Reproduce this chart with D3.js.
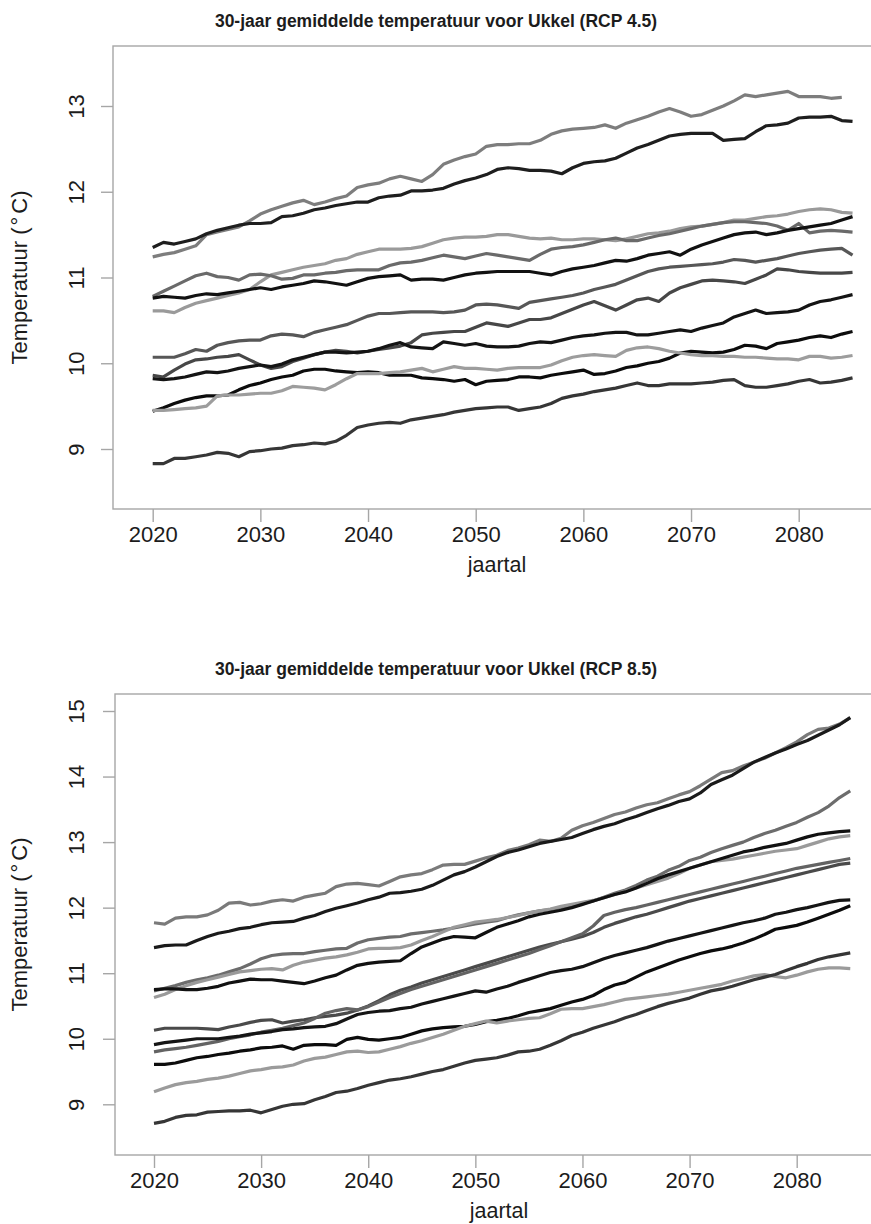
<!DOCTYPE html>
<html>
<head>
<meta charset="utf-8">
<script src="https://cdn.jsdelivr.net/npm/d3@7"></script>
<style>
  html, body { margin: 0; padding: 0; background: #fff; }
  svg { display: block; font-family: "Liberation Sans", Arial, Helvetica, sans-serif; }
</style>
</head>
<body>
<svg id="chart" width="871" height="1224"></svg>
<script>
// Years shared by both scenarios
const startYear = 2020;
const xTicks = [2020, 2030, 2040, 2050, 2060, 2070, 2080];
const yTicks45 = [9, 10, 11, 12, 13];
const yTicks85 = [9, 10, 11, 12, 13, 14, 15];

// RCP 4.5 model runs, 30-year running mean (°C), one value per year from 2020
const rcp45_a = [11.24,11.27,11.29,11.33,11.37,11.5,11.53,11.56,11.59,11.66,11.74,11.79,11.83,11.87,11.9,11.85,11.88,11.92,11.95,12.05,12.08,12.1,12.15,12.18,12.15,12.12,12.2,12.32,12.37,12.41,12.44,12.53,12.55,12.55,12.56,12.56,12.6,12.67,12.71,12.73,12.74,12.75,12.78,12.74,12.8,12.84,12.88,12.93,12.97,12.93,12.88,12.9,12.95,13.0,13.06,13.13,13.11,13.13,13.15,13.17,13.11,13.11,13.11,13.09,13.1];
const rcp45_b = [11.35,11.41,11.39,11.42,11.45,11.51,11.55,11.58,11.61,11.63,11.63,11.64,11.71,11.72,11.75,11.79,11.81,11.84,11.86,11.88,11.88,11.93,11.95,11.96,12.01,12.01,12.02,12.04,12.09,12.13,12.16,12.2,12.26,12.28,12.27,12.25,12.25,12.24,12.21,12.28,12.33,12.35,12.36,12.39,12.45,12.51,12.55,12.6,12.65,12.67,12.68,12.68,12.68,12.6,12.61,12.62,12.7,12.77,12.78,12.8,12.86,12.87,12.87,12.88,12.83,12.82];
const rcp45_c = [10.61,10.61,10.59,10.65,10.7,10.73,10.76,10.79,10.82,10.86,10.95,11.03,11.06,11.09,11.12,11.14,11.16,11.2,11.22,11.27,11.3,11.33,11.33,11.33,11.34,11.36,11.4,11.44,11.46,11.47,11.47,11.48,11.5,11.5,11.48,11.46,11.45,11.46,11.44,11.44,11.45,11.45,11.44,11.43,11.45,11.48,11.51,11.52,11.54,11.57,11.59,11.6,11.62,11.64,11.67,11.67,11.69,11.71,11.72,11.74,11.77,11.79,11.8,11.79,11.76,11.75];
const rcp45_d = [10.78,10.84,10.9,10.96,11.02,11.05,11.01,11.0,10.97,11.03,11.04,11.02,10.98,10.99,11.03,11.03,11.05,11.06,11.08,11.09,11.09,11.09,11.14,11.17,11.18,11.2,11.23,11.26,11.24,11.22,11.25,11.28,11.26,11.24,11.22,11.2,11.27,11.33,11.35,11.36,11.38,11.41,11.44,11.46,11.43,11.43,11.46,11.49,11.51,11.54,11.57,11.6,11.62,11.64,11.65,11.65,11.64,11.63,11.6,11.55,11.63,11.52,11.54,11.55,11.54,11.53];
const rcp45_e = [10.76,10.78,10.77,10.76,10.79,10.81,10.8,10.82,10.84,10.86,10.88,10.86,10.89,10.91,10.93,10.96,10.95,10.93,10.91,10.95,10.99,11.01,11.02,11.03,10.97,10.98,10.98,10.97,11.0,11.03,11.05,11.06,11.07,11.07,11.07,11.07,11.05,11.03,11.07,11.1,11.12,11.14,11.17,11.2,11.19,11.22,11.26,11.28,11.3,11.26,11.33,11.38,11.42,11.46,11.5,11.52,11.53,11.5,11.52,11.55,11.57,11.59,11.61,11.63,11.67,11.71];
const rcp45_f = [10.07,10.07,10.07,10.11,10.16,10.14,10.21,10.24,10.26,10.27,10.27,10.32,10.34,10.33,10.31,10.36,10.39,10.42,10.45,10.5,10.55,10.58,10.58,10.59,10.6,10.6,10.6,10.59,10.6,10.62,10.68,10.69,10.68,10.66,10.64,10.71,10.73,10.75,10.77,10.79,10.82,10.86,10.89,10.92,10.97,11.02,11.07,11.1,11.12,11.13,11.14,11.15,11.16,11.18,11.21,11.2,11.18,11.2,11.22,11.25,11.28,11.3,11.32,11.33,11.34,11.26];
const rcp45_g = [9.86,9.84,9.92,9.99,10.04,10.05,10.07,10.08,10.1,10.04,9.98,9.94,9.96,10.02,10.06,10.1,10.13,10.15,10.14,10.12,10.14,10.16,10.18,10.2,10.24,10.33,10.35,10.36,10.37,10.37,10.42,10.47,10.45,10.43,10.47,10.51,10.51,10.53,10.58,10.63,10.68,10.72,10.67,10.62,10.68,10.74,10.76,10.72,10.82,10.88,10.92,10.96,10.97,10.96,10.95,10.93,10.98,11.03,11.1,11.09,11.07,11.06,11.05,11.05,11.05,11.06];
const rcp45_h = [9.82,9.81,9.82,9.84,9.87,9.9,9.89,9.91,9.94,9.96,9.98,9.96,9.99,10.04,10.07,10.1,10.13,10.13,10.12,10.13,10.14,10.17,10.21,10.24,10.19,10.18,10.17,10.25,10.23,10.21,10.23,10.2,10.19,10.19,10.2,10.23,10.25,10.24,10.27,10.3,10.32,10.33,10.35,10.36,10.36,10.33,10.33,10.35,10.37,10.39,10.37,10.41,10.44,10.47,10.54,10.58,10.62,10.58,10.59,10.6,10.62,10.68,10.72,10.74,10.77,10.8];
const rcp45_i = [9.44,9.48,9.53,9.57,9.6,9.62,9.62,9.63,9.69,9.74,9.77,9.81,9.84,9.86,9.91,9.93,9.93,9.91,9.9,9.89,9.9,9.89,9.86,9.86,9.86,9.83,9.82,9.81,9.79,9.81,9.75,9.79,9.8,9.81,9.84,9.84,9.83,9.86,9.88,9.9,9.92,9.87,9.88,9.91,9.95,9.97,10.0,10.02,10.06,10.12,10.14,10.13,10.12,10.13,10.16,10.21,10.2,10.17,10.23,10.25,10.27,10.3,10.32,10.3,10.34,10.37];
const rcp45_j = [9.45,9.45,9.46,9.47,9.48,9.5,9.62,9.63,9.63,9.64,9.65,9.65,9.68,9.73,9.72,9.71,9.69,9.75,9.82,9.88,9.88,9.88,9.89,9.9,9.92,9.94,9.9,9.93,9.96,9.94,9.94,9.93,9.92,9.94,9.95,9.95,9.95,9.98,10.03,10.07,10.09,10.1,10.09,10.08,10.15,10.18,10.19,10.17,10.14,10.12,10.1,10.09,10.09,10.08,10.08,10.07,10.07,10.06,10.05,10.05,10.04,10.08,10.08,10.06,10.07,10.09];
const rcp45_k = [8.83,8.83,8.89,8.89,8.91,8.93,8.96,8.95,8.91,8.97,8.98,9.0,9.01,9.04,9.05,9.07,9.06,9.09,9.16,9.25,9.28,9.3,9.31,9.3,9.34,9.36,9.38,9.4,9.43,9.45,9.47,9.48,9.49,9.49,9.45,9.47,9.49,9.53,9.59,9.62,9.64,9.67,9.69,9.71,9.74,9.77,9.74,9.74,9.76,9.76,9.76,9.77,9.78,9.8,9.81,9.74,9.72,9.72,9.74,9.76,9.79,9.81,9.77,9.78,9.8,9.83];

// RCP 8.5 model runs, 30-year running mean (°C), one value per year from 2020
const rcp85_a = [11.77,11.75,11.84,11.86,11.86,11.89,11.96,12.07,12.08,12.04,12.06,12.1,12.12,12.1,12.16,12.19,12.22,12.32,12.36,12.37,12.35,12.33,12.4,12.47,12.5,12.52,12.58,12.65,12.66,12.66,12.71,12.76,12.8,12.87,12.91,12.96,13.03,13.01,13.06,13.18,13.25,13.3,13.36,13.42,13.46,13.52,13.57,13.6,13.66,13.72,13.77,13.86,13.96,14.06,14.09,14.16,14.22,14.28,14.36,14.44,14.53,14.64,14.72,14.74,14.8,14.9];
const rcp85_b = [11.39,11.42,11.43,11.43,11.5,11.56,11.61,11.64,11.68,11.7,11.74,11.77,11.78,11.79,11.84,11.88,11.94,11.99,12.03,12.07,12.12,12.16,12.22,12.23,12.25,12.28,12.34,12.42,12.5,12.55,12.62,12.7,12.78,12.84,12.88,12.93,12.98,13.01,13.04,13.07,13.13,13.19,13.24,13.28,13.34,13.39,13.45,13.51,13.56,13.62,13.66,13.75,13.88,13.95,14.02,14.12,14.22,14.29,14.36,14.42,14.49,14.55,14.63,14.71,14.79,14.9];
const rcp85_c = [10.73,10.77,10.81,10.86,10.9,10.93,10.97,11.02,11.07,11.14,11.22,11.27,11.29,11.3,11.3,11.33,11.35,11.37,11.38,11.46,11.51,11.53,11.55,11.56,11.6,11.62,11.64,11.66,11.69,11.72,11.75,11.78,11.8,11.85,11.89,11.92,11.95,11.97,12.0,12.02,12.07,12.1,12.16,12.22,12.27,12.34,12.42,12.48,12.57,12.63,12.72,12.77,12.84,12.9,12.95,13.0,13.07,13.13,13.18,13.24,13.3,13.38,13.45,13.55,13.68,13.78];
const rcp85_d = [10.63,10.68,10.75,10.81,10.86,10.9,10.94,10.98,11.02,11.04,11.06,11.07,11.05,11.12,11.17,11.2,11.23,11.25,11.28,11.32,11.37,11.38,11.38,11.39,11.43,11.5,11.56,11.63,11.7,11.74,11.78,11.8,11.82,11.85,11.88,11.92,11.95,11.98,12.02,12.05,12.08,12.11,12.15,12.2,12.25,12.3,12.35,12.4,12.45,12.52,12.6,12.65,12.7,12.72,12.74,12.77,12.8,12.83,12.86,12.88,12.9,12.95,13.0,13.05,13.08,13.1];
const rcp85_e = [10.75,10.76,10.76,10.75,10.75,10.77,10.8,10.85,10.88,10.91,10.9,10.9,10.88,10.86,10.84,10.88,10.93,10.97,11.05,11.12,11.15,11.17,11.18,11.19,11.3,11.4,11.46,11.52,11.56,11.55,11.54,11.62,11.7,11.75,11.8,11.86,11.9,11.93,11.96,12.0,12.05,12.1,12.15,12.2,12.24,12.3,12.37,12.44,12.5,12.55,12.6,12.65,12.7,12.75,12.8,12.85,12.88,12.92,12.95,12.98,13.03,13.08,13.12,13.14,13.16,13.17];
const rcp85_f = [10.13,10.16,10.16,10.16,10.16,10.15,10.14,10.18,10.21,10.25,10.28,10.29,10.24,10.27,10.29,10.32,10.34,10.36,10.39,10.44,10.5,10.58,10.67,10.74,10.79,10.85,10.9,10.95,11.0,11.05,11.1,11.15,11.2,11.25,11.3,11.35,11.4,11.44,11.48,11.52,11.56,11.62,11.7,11.76,11.81,11.86,11.9,11.95,12.0,12.05,12.1,12.14,12.18,12.22,12.26,12.3,12.34,12.38,12.42,12.46,12.5,12.54,12.58,12.62,12.66,12.68];
const rcp85_g = [9.8,9.83,9.85,9.87,9.9,9.93,9.96,10.0,10.03,10.06,10.1,10.13,10.16,10.2,10.24,10.31,10.39,10.43,10.46,10.44,10.49,10.56,10.63,10.69,10.75,10.8,10.85,10.9,10.95,11.0,11.05,11.1,11.15,11.2,11.25,11.3,11.36,11.42,11.48,11.54,11.6,11.72,11.88,11.93,11.97,12.0,12.04,12.08,12.12,12.16,12.2,12.24,12.28,12.32,12.36,12.4,12.44,12.48,12.52,12.56,12.6,12.63,12.66,12.69,12.72,12.75];
const rcp85_h = [9.91,9.94,9.96,9.98,10.0,10.0,10.0,10.02,10.04,10.07,10.09,10.11,10.14,10.15,10.17,10.18,10.19,10.23,10.3,10.37,10.4,10.42,10.43,10.46,10.48,10.53,10.57,10.61,10.65,10.69,10.73,10.71,10.76,10.8,10.86,10.91,10.96,11.01,11.04,11.06,11.1,11.16,11.22,11.27,11.31,11.35,11.39,11.44,11.49,11.53,11.57,11.61,11.65,11.69,11.73,11.77,11.8,11.84,11.9,11.93,11.97,12.0,12.04,12.08,12.11,12.12];
const rcp85_i = [9.61,9.61,9.63,9.67,9.71,9.73,9.76,9.78,9.81,9.83,9.86,9.87,9.89,9.84,9.9,9.91,9.91,9.9,9.99,10.02,9.99,9.98,10.0,10.02,10.07,10.12,10.15,10.17,10.18,10.19,10.22,10.26,10.28,10.31,10.35,10.4,10.43,10.46,10.51,10.56,10.6,10.66,10.75,10.82,10.86,10.94,11.02,11.08,11.14,11.2,11.25,11.3,11.34,11.37,11.41,11.46,11.52,11.59,11.67,11.7,11.73,11.78,11.84,11.9,11.96,12.03];
const rcp85_j = [9.19,9.25,9.3,9.33,9.35,9.38,9.4,9.43,9.47,9.51,9.53,9.56,9.57,9.6,9.66,9.7,9.72,9.76,9.8,9.81,9.79,9.8,9.84,9.88,9.93,9.97,10.02,10.07,10.13,10.19,10.23,10.27,10.24,10.27,10.29,10.31,10.32,10.38,10.45,10.46,10.46,10.49,10.52,10.56,10.6,10.62,10.64,10.66,10.68,10.71,10.74,10.77,10.8,10.83,10.88,10.92,10.96,10.98,10.95,10.93,10.97,11.02,11.06,11.08,11.08,11.07];
const rcp85_k = [8.71,8.74,8.8,8.83,8.84,8.88,8.89,8.9,8.9,8.91,8.87,8.92,8.97,9.0,9.01,9.07,9.12,9.18,9.2,9.24,9.29,9.33,9.37,9.39,9.42,9.46,9.5,9.53,9.58,9.63,9.67,9.69,9.71,9.75,9.8,9.81,9.84,9.9,9.97,10.05,10.1,10.16,10.21,10.26,10.32,10.37,10.43,10.49,10.54,10.58,10.62,10.68,10.73,10.76,10.8,10.85,10.9,10.94,10.98,11.04,11.1,11.15,11.21,11.25,11.28,11.31];

// Grey shade per run (same order as the arrays above)
const shades45 = ["#7d7d7d","#1e1e1e","#9a9a9a","#6a6a6a","#111111","#575757","#474747","#141414","#0c0c0c","#9d9d9d","#363636"];
const shades85 = ["#7a7a7a","#1a1a1a","#6c6c6c","#9a9a9a","#111111","#4a4a4a","#636363","#151515","#0c0c0c","#9b9b9b","#363636"];

const panels = [
  {
    title: "30-jaar gemiddelde temperatuur voor Ukkel (RCP 4.5)",
    runs: [rcp45_a, rcp45_b, rcp45_c, rcp45_d, rcp45_e, rcp45_f, rcp45_g, rcp45_h, rcp45_i, rcp45_j, rcp45_k],
    shades: shades45, yTicks: yTicks45,
    box: {left: 113, top: 46, bottom: 509, right: 881},
    xPix: [152.7, 798.7], yDom: [9, 13], yPix: [449, 106]
  },
  {
    title: "30-jaar gemiddelde temperatuur voor Ukkel (RCP 8.5)",
    runs: [rcp85_a, rcp85_b, rcp85_c, rcp85_d, rcp85_e, rcp85_f, rcp85_g, rcp85_h, rcp85_i, rcp85_j, rcp85_k],
    shades: shades85, yTicks: yTicks85,
    box: {left: 115, top: 694, bottom: 1155, right: 883},
    xPix: [154, 796.7], yDom: [9, 15], yPix: [1104.3, 711]
  }
];

const svg = d3.select("#chart");
const axisGrey = "#a6a6a6";
const textCol = "#1c1c1c";

panels.forEach(p => {
  const b = p.box;
  const x = d3.scaleLinear().domain([2020, 2080]).range(p.xPix);
  const y = d3.scaleLinear().domain(p.yDom).range(p.yPix);
  const g = svg.append("g");

  // title
  g.append("text")
    .attr("x", 436).attr("y", b.top - 19)
    .attr("text-anchor", "middle")
    .attr("font-weight", "bold").attr("font-size", 17.5)
    .attr("fill", textCol)
    .text(p.title);

  // run lines, clipped to the plot box
  const clipId = "clip" + b.top;
  svg.append("clipPath").attr("id", clipId)
    .append("rect").attr("x", b.left).attr("y", b.top)
    .attr("width", b.right - b.left).attr("height", b.bottom - b.top);

  const line = d3.line()
    .x((d, i) => x(startYear + i))
    .y(d => y(d));

  g.append("g").attr("clip-path", `url(#${clipId})`)
    .selectAll("path").data(p.runs).join("path")
    .attr("d", d => line(d))
    .attr("fill", "none")
    .attr("stroke", (d, i) => p.shades[i])
    .attr("stroke-width", 3.2)
    .attr("stroke-linejoin", "round")
    .attr("stroke-linecap", "butt");

  // box
  g.append("rect")
    .attr("x", b.left).attr("y", b.top)
    .attr("width", b.right - b.left).attr("height", b.bottom - b.top)
    .attr("fill", "none").attr("stroke", axisGrey).attr("stroke-width", 1.4);

  // x axis
  const xAxis = d3.axisBottom(x).tickValues(xTicks).tickSize(13).tickPadding(4)
    .tickFormat(d3.format("d"));
  const xg = g.append("g").attr("transform", `translate(0,${b.bottom})`).call(xAxis);
  xg.select(".domain").remove();
  xg.selectAll(".tick line").attr("stroke", axisGrey).attr("stroke-width", 1.4);
  xg.selectAll(".tick text")
    .attr("font-size", 22).attr("font-family", "Liberation Sans, Arial, sans-serif")
    .attr("fill", textCol).attr("dy", null).attr("y", 32.8);

  // y axis with labels parallel to the axis
  const yAxis = d3.axisLeft(y).tickValues(p.yTicks).tickSize(12).tickFormat(d3.format("d"));
  const yg = g.append("g").attr("transform", `translate(${b.left},0)`).call(yAxis);
  yg.select(".domain").remove();
  yg.selectAll(".tick line").attr("stroke", axisGrey).attr("stroke-width", 1.4);
  yg.selectAll(".tick text")
    .attr("font-size", 22).attr("font-family", "Liberation Sans, Arial, sans-serif")
    .attr("fill", textCol)
    .attr("x", null).attr("dy", null)
    .attr("text-anchor", "middle")
    .attr("transform", `translate(${84 - b.left},0) rotate(-90)`);

  // axis titles
  g.append("text")
    .attr("x", (b.left + b.right) / 2).attr("y", b.bottom + 63)
    .attr("text-anchor", "middle").attr("font-size", 21.5).attr("fill", textCol)
    .text("jaartal");

  const yl = g.append("text")
    .attr("transform", `translate(27,${(b.top + b.bottom) / 2}) rotate(-90)`)
    .attr("text-anchor", "middle").attr("font-size", 22).attr("fill", textCol);
  yl.append("tspan").text("Temperatuur (");
  yl.append("tspan").attr("dx", 2).text("°");
  yl.append("tspan").attr("dx", 3).text("C)");
});
</script>
</body>
</html>
